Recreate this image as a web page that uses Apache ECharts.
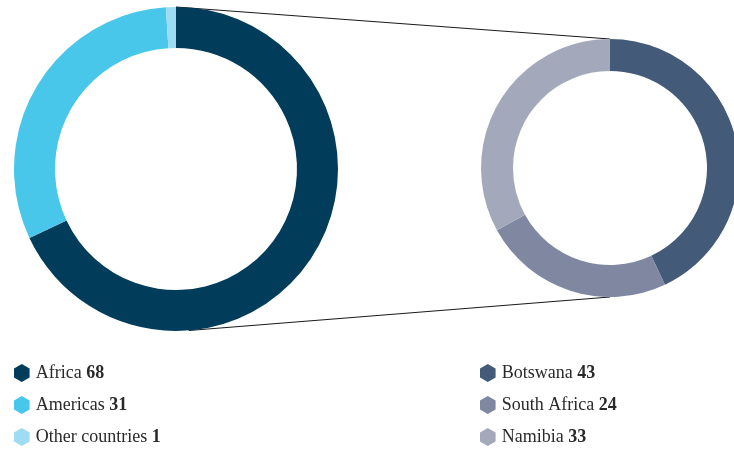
<!DOCTYPE html>
<html>
<head>
<meta charset="utf-8">
<script src="https://cdn.jsdelivr.net/npm/echarts@6/dist/echarts.min.js"></script>
<style>
html,body{margin:0;padding:0;background:#fff;}
#main{width:734px;height:450px;}
</style>
</head>
<body>
<div id="main"></div>
<script>
// Data
var regionNames = ['Africa', 'Americas', 'Other countries'];
var regionValues = [68, 31, 1];
var regionColors = ['#023c5b', '#49c7eb', '#9edcf4'];

var countryNames = ['Botswana', 'South Africa', 'Namibia'];
var countryValues = [43, 24, 33];
var countryColors = ['#445a79', '#7f88a0', '#a3a9ba'];

// Geometry
var c1 = [176, 169], r1 = [121, 162];
var c2 = [610, 168], r2 = [97, 129];
var legendLeft = [14, 480];
var legendTops = [364, 396, 428];

var valueMap = {};
regionNames.forEach(function (n, i) { valueMap[n] = regionValues[i]; });
countryNames.forEach(function (n, i) { valueMap[n] = countryValues[i]; });

function tangentPoint(P, C, r, pickTop) {
  var dx = P[0] - C[0], dy = P[1] - C[1];
  var d = Math.sqrt(dx * dx + dy * dy);
  var th = Math.atan2(dy, dx);
  var a = Math.acos(r / d);
  var t1 = th - a, t2 = th + a;
  var p1 = [C[0] + r * Math.cos(t1), C[1] + r * Math.sin(t1)];
  var p2 = [C[0] + r * Math.cos(t2), C[1] + r * Math.sin(t2)];
  if (pickTop) return p1[1] < p2[1] ? p1 : p2;
  return p1[1] > p2[1] ? p1 : p2;
}
var topR = [c2[0], c2[1] - r2[1]];
var botR = [c2[0], c2[1] + r2[1]];
var topL = [c1[0], c1[1] - r1[1]];
var botL = tangentPoint(botR, c1, r1[1], false);

var hex = 'path://M50,0 L93.3,25 L93.3,75 L50,100 L6.7,75 L6.7,25 Z';

var FONT = 'Liberation Serif';
var legendText = {
  fontFamily: FONT,
  fontSize: 18,
  color: '#2a2a2a',
  rich: {
    n: { fontFamily: FONT, fontSize: 18, color: '#2a2a2a' },
    b: { fontFamily: FONT, fontSize: 18, color: '#2a2a2a', fontWeight: 'bold' }
  }
};
function fmt(name) { return '{n|' + name + '} {b|' + valueMap[name] + '}'; }

var legends = [];
[regionNames, countryNames].forEach(function (names, col) {
  names.forEach(function (n, i) {
    legends.push({
      data: [n],
      left: legendLeft[col],
      top: legendTops[i],
      padding: 0,
      itemWidth: 18,
      itemHeight: 18,
      itemGap: 0,
      icon: hex,
      selectedMode: false,
      formatter: fmt,
      textStyle: legendText
    });
  });
});

var chart = echarts.init(document.getElementById('main'), null, { renderer: 'canvas' });
chart.setOption({
  animation: false,
  legend: legends,
  graphic: [{
    type: 'line',
    z: 0,
    shape: { x1: topL[0], y1: topL[1], x2: topR[0], y2: topR[1] },
    style: { stroke: '#1a1a1a', lineWidth: 1.2 }
  }, {
    type: 'line',
    z: 0,
    shape: { x1: botL[0], y1: botL[1], x2: botR[0], y2: botR[1] },
    style: { stroke: '#1a1a1a', lineWidth: 1.2 }
  }],
  series: [{
    type: 'pie',
    z: 5,
    center: c1,
    radius: r1,
    startAngle: 90,
    clockwise: true,
    label: { show: false },
    labelLine: { show: false },
    silent: true,
    itemStyle: { borderWidth: 0 },
    data: regionNames.map(function (n, i) {
      return { name: n, value: regionValues[i], itemStyle: { color: regionColors[i] } };
    })
  }, {
    type: 'pie',
    z: 5,
    center: c2,
    radius: r2,
    startAngle: 90,
    clockwise: true,
    label: { show: false },
    labelLine: { show: false },
    silent: true,
    itemStyle: { borderWidth: 0 },
    data: countryNames.map(function (n, i) {
      return { name: n, value: countryValues[i], itemStyle: { color: countryColors[i] } };
    })
  }]
});
</script>
</body>
</html>
